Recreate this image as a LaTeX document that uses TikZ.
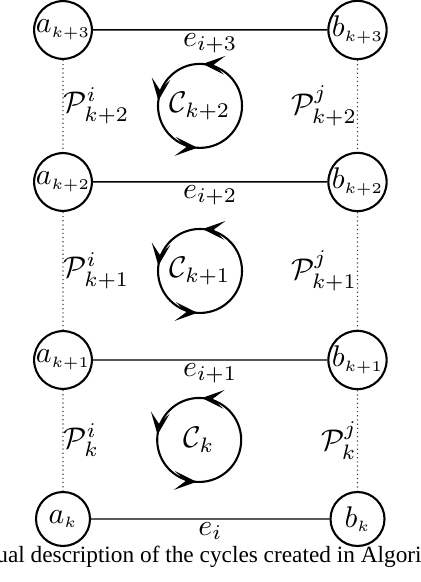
\documentclass[tikz,border=0pt]{standalone}
\usepackage{amsmath}
\usepackage{fontspec}
\newfontfamily\capfont{Liberation Serif}
\usepackage{tikz}
\usetikzlibrary{arrows.meta}
\usetikzlibrary{decorations.markings}

\tikzset{
  vert/.style={circle, draw, line width=0.7pt, minimum size=6.35mm, inner sep=0pt},
  loopline/.style={line width=0.7pt, postaction={decorate},
    decoration={markings,
      mark=at position 0.24 with {\arrow{Stealth[length=2.6mm,width=2.2mm,inset=1.3mm]}},
      mark=at position 0.48 with {\arrow{Stealth[length=2.6mm,width=2.2mm,inset=1.3mm]}},
      mark=at position 0.74 with {\arrow{Stealth[length=2.6mm,width=2.2mm,inset=1.3mm]}}}},
  pathline/.style={densely dotted, black!75},
}

\begin{document}
\begin{tikzpicture}[scale=1.176]
    \useasboundingbox (0,0) rectangle (4.2,5.82);

    % rows of end points
    \foreach \n/\y/\s in {0/0.63/k, 1/2.22/k+1, 2/4.00/k+2, 3/5.52/k+3} {
        \node[vert] (a\n) at (0.63,\y) {$a_{\scriptscriptstyle \s}$};
        \node[vert] (b\n) at (3.575,\y) {$b_{\scriptscriptstyle \s}$};
    }

    \foreach \n/\s in {0/i, 1/i+1, 2/i+2, 3/i+3}
        \draw[line width=0.45pt] (a\n) -- (b\n) node[midway,below,inner sep=1pt] {$e_{\s}$};

    % paths between rows and the cycles they close
    \foreach \n/\m/\s in {0/1/k, 1/2/k+1, 2/3/k+2} {
        \draw[pathline] (a\m) -- (a\n) node[midway,right,inner sep=0pt,text=black] {$\mathcal{P}^i_{\s}$};
        \draw[pathline] (b\m) -- (b\n) node[midway,left,inner sep=0pt,text=black] {$\mathcal{P}^j_{\s}$};
        \path (a\n) -- (b\m) node[midway,xshift=-1.2mm] (c\n) {$\mathcal{C}_{\s}$};
        \draw[loopline] (c\n) circle (0.42);
    }

    \node[font=\capfont\fontsize{7.8pt}{9pt}\selectfont, anchor=base] (cap) at (2.09,0.19)
        {ual description of the cycles created in Algori};
\end{tikzpicture}
\end{document}
